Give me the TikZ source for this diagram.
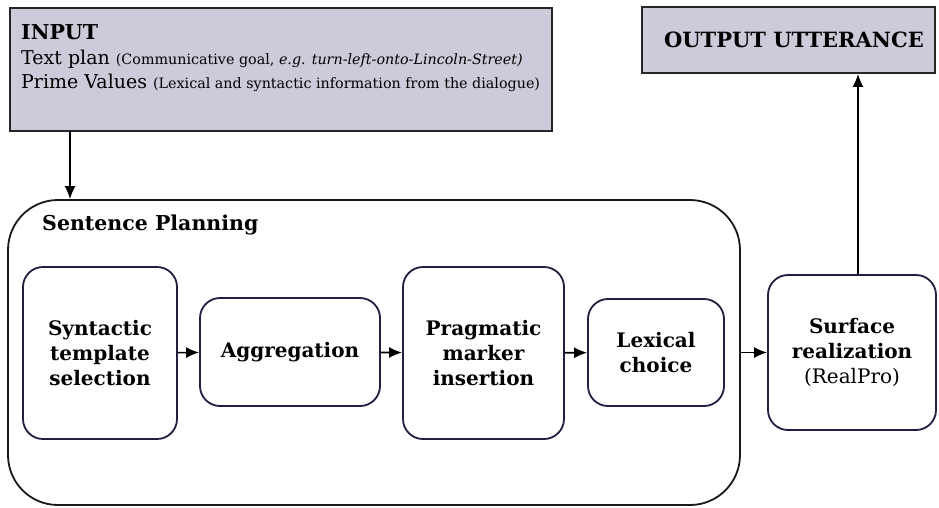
\documentclass[tikz,border=0pt]{standalone}
\usepackage{fontspec}
\setmainfont{DejaVu Serif}
\usetikzlibrary{arrows.meta}
\definecolor{boxfill}{HTML}{CDCBD9}
\definecolor{navy}{HTML}{221E42}
\begin{document}
\begin{tikzpicture}[x=1pt,y=-1pt,
  stage/.style={draw=navy, line width=1.8pt, rounded corners=20pt, align=center,
    font=\bfseries\fontsize{20}{25}\selectfont, inner sep=0pt},
  greybox/.style={draw=black!85, fill=boxfill, line width=1.8pt, inner sep=0pt},
  inline/.style={anchor=base west, inner sep=0pt, font=\fontsize{19}{22}\selectfont},
  arr/.style={-{Latex[length=13pt,width=11pt]}, line width=1.6pt}]
\useasboundingbox (0,0) rectangle (939,507);
% input / output boxes
\node[greybox, minimum width=542pt, minimum height=123pt] (input) at (281,69.5) {};
\node[inline, font=\bfseries\fontsize{20.5}{22}\selectfont] (in1) at (21,39) {INPUT};
\node[inline] (in2) at (21,64) {Text plan {\fontsize{14.3}{16}\selectfont (Communicative goal, \textit{e.g. turn-left-onto-Lincoln-Street)}}};
\node[inline] (in3) at (21,88) {Prime Values {\fontsize{14.3}{16}\selectfont (Lexical and syntactic information from the dialogue)}};
\node[greybox, minimum width=293pt, minimum height=66pt] (output) at (788.5,40) {};
\node[inner sep=0pt, font=\bfseries\fontsize{21}{22}\selectfont] (outtext) at (794,40) {OUTPUT UTTERANCE};
% sentence planning container
\node[draw=black!90, line width=1.8pt, rounded corners=50pt, minimum width=732pt, minimum height=305pt, inner sep=0pt] (sp) at (374,352.5) {};
\node[anchor=west, inner sep=0pt, font=\bfseries\fontsize{20.5}{22}\selectfont] (splabel) at (42,225) {Sentence Planning};
% stages
\node[stage, minimum width=154pt, minimum height=172pt] (syn) at (100,353) {Syntactic\\template\\selection};
\node[stage, minimum width=180pt, minimum height=108pt] (agg) at (290,352) {Aggregation};
\node[stage, minimum width=161pt, minimum height=172pt] (prag) at (483.5,353) {Pragmatic\\marker\\insertion};
\node[stage, minimum width=136pt, minimum height=107pt] (lex) at (656,352.5) {Lexical\\choice};
\node[stage, minimum width=168pt, minimum height=155pt] (surf) at (852,352.5) {Surface\\realization\\{\mdseries (RealPro)}};
% connectors
\draw[arr] (input.south -| 70,0) -- (sp.north -| 70,0);
\draw[arr] (syn) -- (agg);
\draw[arr] (agg) -- (prag);
\draw[arr] (prag) -- (lex);
\draw[arr] (sp.east |- surf.west) -- (surf.west);
\draw[arr] ([xshift=6pt]surf.north) -- ([xshift=6pt]surf.north |- output.south);
\end{tikzpicture}
\end{document}
